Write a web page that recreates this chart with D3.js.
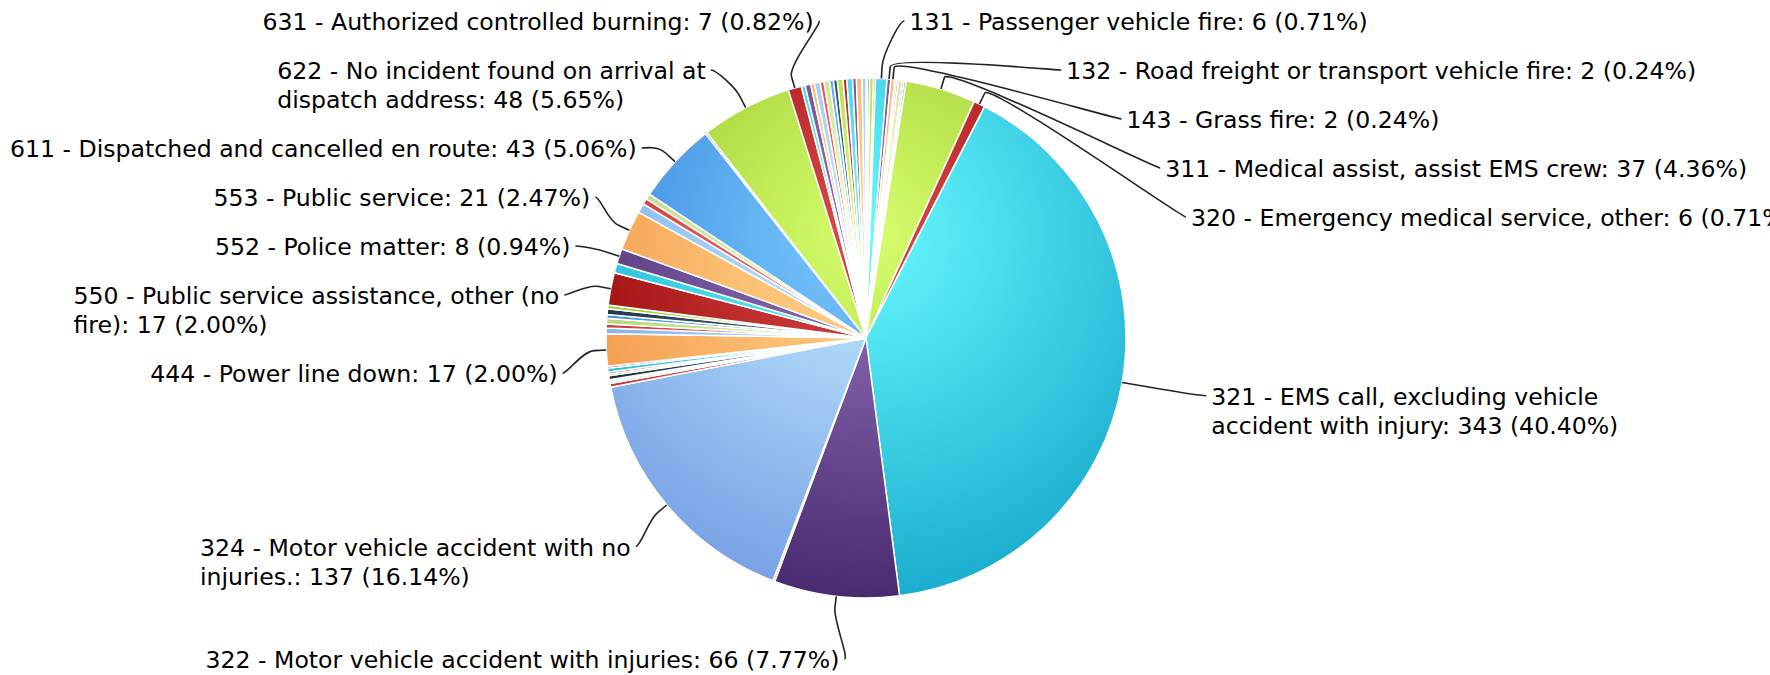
<!DOCTYPE html>
<html><head><meta charset="utf-8">
<script src="https://cdn.jsdelivr.net/npm/d3@7/dist/d3.min.js"></script>
<style>
html,body{margin:0;padding:0;background:#fff;}
svg{display:block;}
text{font-family:"DejaVu Sans",sans-serif;font-size:23.6px;fill:#000;}
</style></head><body>
<svg id="chart" width="1770" height="675"></svg>
<script>
// ---- data (in drawing order, clockwise from 12 o'clock) ----
const names = [
  null, null, null, null,
  "131 - Passenger vehicle fire",
  "132 - Road freight or transport vehicle fire",
  "143 - Grass fire",
  null, null, null, null, null,
  "311 - Medical assist, assist EMS crew",
  "320 - Emergency medical service, other",
  "321 - EMS call, excluding vehicle\naccident with injury",
  "322 - Motor vehicle accident with injuries",
  null,
  "324 - Motor vehicle accident with no\ninjuries.",
  null, null, null, null, null, null, null, null,
  "444 - Power line down",
  null, null, null, null, null, null,
  "550 - Public service assistance, other (no\nfire)",
  null,
  "552 - Police matter",
  "553 - Public service",
  null, null, null,
  "611 - Dispatched and cancelled en route",
  null,
  "622 - No incident found on arrival at\ndispatch address",
  "631 - Authorized controlled burning",
  null, null, null, null, null, null, null, null, null, null, null, null, null, null
];
const values = [
  1, 1, 2, 1,
  6, 2, 2,
  1, 1, 2, 1, 1,
  37, 6, 343, 66,
  1,
  137,
  2, 1, 1, 2, 1, 1, 2, 1,
  17,
  3, 2, 3, 2, 3, 2,
  17,
  5,
  8, 21,
  5, 3, 3,
  43,
  1,
  48, 7,
  2, 3, 2, 3, 2, 3, 2, 2, 3, 2, 3, 2, 3, 2
];
const palette = ["#2f7ed8","#0d233a","#8bbc21","#910000","#1aadce","#492970","#f28f43","#77a1e5","#c42525","#a6c96a"];

// ---- layout ----
const cx = 866, cy = 338, r = 260;
const distance = 60, R = r + distance;
const lcx = cx + 20, lcy = cy + 3;          // label circle centre
const connectorPadding = 10, connectorOffset = 12;
const lineH = 29, boxPad = 20, firstLineOff = 24.5;
const minLabelX = 10;

const svg = d3.select("#chart");
const defs = svg.append("defs");
const total = d3.sum(values);

function brighten(hex, a) {
  const c = d3.rgb(hex);
  return d3.rgb(Math.min(255, c.r + 255 * a), Math.min(255, c.g + 255 * a), Math.min(255, c.b + 255 * a)).formatHex();
}
palette.forEach((c, i) => {
  const g = defs.append("radialGradient").attr("id", "grad" + i)
    .attr("gradientUnits", "userSpaceOnUse")
    .attr("cx", 0).attr("cy", -r + 0.3 * 2 * r).attr("r", 0.7 * 2 * r);
  g.append("stop").attr("offset", 0).attr("stop-color", brighten(c, 0.3));
  g.append("stop").attr("offset", 1).attr("stop-color", c);
});

const data = values.map((v, i) => ({ value: v, name: names[i], ci: i % palette.length }));
const arcs = d3.pie().value(d => d.value).sort(null).startAngle(0).endAngle(2 * Math.PI)(data);
const arcGen = d3.arc().innerRadius(0).outerRadius(r);

const pieG = svg.append("g").attr("transform", `translate(${cx},${cy})`);
pieG.selectAll("path").data(arcs).join("path")
  .attr("d", arcGen)
  .attr("fill", d => `url(#grad${d.data.ci})`)
  .attr("stroke", "#fff")
  .attr("stroke-width", 1.5)
  .attr("stroke-linejoin", "round");

// ---- labels ----
const labeled = arcs.filter(d => d.data.name);
labeled.forEach(d => {
  d.mid = (d.startAngle + d.endAngle) / 2;
  d.left = d.mid > Math.PI;
  d.text = `${d.data.name}: ${d.data.value} (${(d.data.value / total * 100).toFixed(2)}%)`;
  d.lines = d.text.split("\n");
  d.size = d.lines.length * lineH + boxPad;
  d.naturalY = lcy - R * Math.cos(d.mid);
});

function distribute(items, minPos, maxEnd) {
  items.sort((a, b) => a.naturalY - b.naturalY);
  let comps = items.map(it => ({ size: it.size, targets: [it.naturalY - firstLineOff + it.size / 2], members: [it] }));
  let overlapping = true;
  while (overlapping) {
    comps.forEach(c => {
      const t = (d3.min(c.targets) + d3.max(c.targets)) / 2;
      c.pos = Math.min(Math.max(minPos, t - c.size / 2), maxEnd - c.size);
    });
    overlapping = false;
    for (let i = comps.length - 1; i > 0; i--) {
      if (comps[i - 1].pos + comps[i - 1].size > comps[i].pos + 0.01) {
        comps[i - 1].size += comps[i].size;
        comps[i - 1].targets = comps[i - 1].targets.concat(comps[i].targets);
        comps[i - 1].members = comps[i - 1].members.concat(comps[i].members);
        comps.splice(i, 1);
        overlapping = true;
        break;
      }
    }
  }
  comps.forEach(c => {
    let p = c.pos;
    c.members.forEach(m => { m.y = p + firstLineOff; p += m.size; });
  });
}
const minPos = lcy - R - firstLineOff;
const maxEnd = lcy + R - firstLineOff + lineH + boxPad;
distribute(labeled.filter(d => !d.left), minPos, maxEnd);
distribute(labeled.filter(d => d.left), minPos, maxEnd);

labeled.forEach(d => {
  const edge = d.y <= lcy - R + 2 || d.y >= lcy + R - 2;
  const useY = edge ? (d.naturalY + d.y) / 2 : d.y;
  const s = Math.max(-1, Math.min(1, (useY - lcy) / R));
  d.connX = lcx + (d.left ? -1 : 1) * Math.cos(Math.asin(s)) * R;
});

// text first (to measure), then connectors underneath
const labelG = svg.append("g");
labeled.forEach(d => {
  const t = labelG.append("text");
  d.lines.forEach((ln, i) => {
    t.append("tspan").attr("y", d.y + 1 + i * lineH).attr("dy", "0.35em").text(ln);
  });
  const maxW = d3.max(t.selectAll("tspan").nodes(), n => n.getComputedTextLength());
  let x0;
  if (d.left) {
    x0 = d.connX - connectorPadding - maxW;
    if (x0 < minLabelX) { x0 = minLabelX; d.connX = x0 + maxW + connectorPadding; }
  } else {
    x0 = d.connX + connectorPadding;
  }
  t.selectAll("tspan").attr("x", x0);
});

labeled.forEach(d => {
  const p4 = [cx + r * Math.sin(d.mid), cy - r * Math.cos(d.mid)];
  const p2 = [cx + (r + connectorOffset) * Math.sin(d.mid), cy - (r + connectorOffset) * Math.cos(d.mid)];
  const path = d3.path();
  path.moveTo(d.connX + (d.left ? -5 : 5), d.y);
  path.bezierCurveTo(d.connX, d.y, 2 * p2[0] - p4[0], 2 * p2[1] - p4[1], p2[0], p2[1]);
  path.lineTo(p4[0], p4[1]);
  d.path = path.toString();
});

svg.insert("g", "g:last-of-type").selectAll("path").data(labeled).join("path")
  .attr("d", d => d.path)
  .attr("fill", "none")
  .attr("stroke", "#222")
  .attr("stroke-width", 1.6);
</script>
</body></html>
